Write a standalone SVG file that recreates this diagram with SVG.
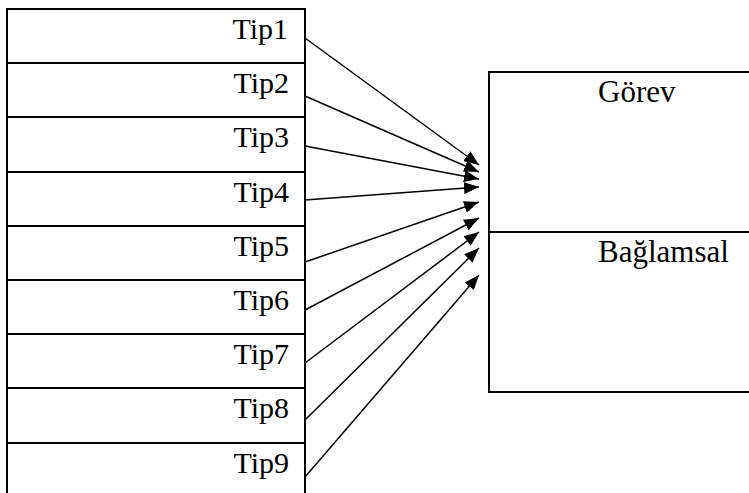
<svg xmlns="http://www.w3.org/2000/svg" width="749" height="493" viewBox="0 0 749 493">
<style>
.box{fill:none;stroke:#000;stroke-width:2}
.t{font-family:'Liberation Serif','Times New Roman',serif;font-size:30px;fill:#000}
.r{font-size:31px}
.c{stroke:#000;stroke-width:1.5;fill:none;marker-end:url(#ah)}
</style>
<defs>
<marker id="ah" viewBox="0 0 15 12" refX="15" refY="6" markerWidth="15" markerHeight="12" markerUnits="userSpaceOnUse" orient="auto">
<path d="M0,0 L15,6 L0,12 Z" fill="#000"/>
</marker>
</defs>
<rect width="749" height="493" fill="#fff"/>
<g id="tip1"><rect class="box" x="7" y="9" width="298" height="54"/><text class="t" x="288" y="39" text-anchor="end">Tip1</text></g>
<g id="tip2"><rect class="box" x="7" y="63" width="298" height="54"/><text class="t" x="289" y="93" text-anchor="end">Tip2</text></g>
<g id="tip3"><rect class="box" x="7" y="117" width="298" height="55"/><text class="t" x="289" y="147" text-anchor="end">Tip3</text></g>
<g id="tip4"><rect class="box" x="7" y="172" width="298" height="54"/><text class="t" x="289" y="202" text-anchor="end">Tip4</text></g>
<g id="tip5"><rect class="box" x="7" y="226" width="298" height="54"/><text class="t" x="289" y="256" text-anchor="end">Tip5</text></g>
<g id="tip6"><rect class="box" x="7" y="280" width="298" height="54"/><text class="t" x="289" y="310" text-anchor="end">Tip6</text></g>
<g id="tip7"><rect class="box" x="7" y="334" width="298" height="54"/><text class="t" x="289" y="364" text-anchor="end">Tip7</text></g>
<g id="tip8"><rect class="box" x="7" y="388" width="298" height="55"/><text class="t" x="289" y="418" text-anchor="end">Tip8</text></g>
<g id="tip9"><rect class="box" x="7" y="443" width="298" height="60"/><text class="t" x="289" y="473" text-anchor="end">Tip9</text></g>
<g id="gorev"><rect class="box" x="489" y="72" width="270" height="160"/><text class="t r" x="598" y="102">Görev</text></g>
<g id="baglamsal"><rect class="box" x="489" y="232" width="270" height="160"/><text class="t r" x="598" y="262">Bağlamsal</text></g>
<g id="connectors">
<line class="c" x1="305" y1="38" x2="479" y2="165"/>
<line class="c" x1="305" y1="96" x2="479" y2="172"/>
<line class="c" x1="305" y1="146" x2="479" y2="179"/>
<line class="c" x1="305" y1="200" x2="479" y2="187"/>
<line class="c" x1="305" y1="262" x2="479" y2="202"/>
<line class="c" x1="305" y1="310" x2="479" y2="218"/>
<line class="c" x1="305" y1="363" x2="479" y2="232"/>
<line class="c" x1="305" y1="420" x2="479" y2="248"/>
<line class="c" x1="305" y1="477" x2="479" y2="275"/>
</g>
</svg>
